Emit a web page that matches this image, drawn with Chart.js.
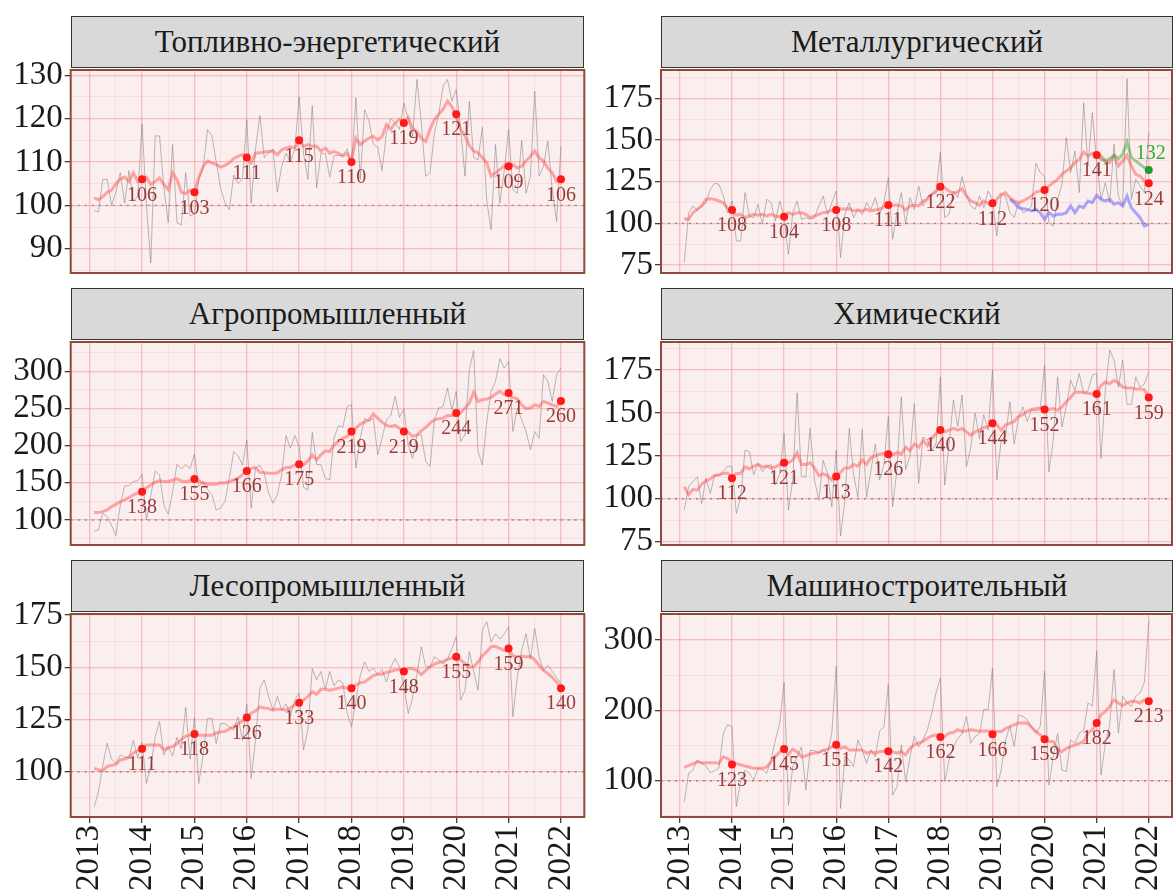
<!DOCTYPE html>
<html>
<head>
<meta charset="utf-8">
<script src="https://cdn.jsdelivr.net/npm/chart.js@4.4.0/dist/chart.umd.min.js"></script>
<style>
  body { margin: 0; background: #fff; width: 1176px; height: 893px; position: relative; overflow: hidden; font-family: 'Liberation Serif', serif; }
  canvas { position: absolute; }
  .strip { position: absolute; background: #d9d9d9; border: 1.5px solid #333; box-sizing: border-box; text-align: center; font-size: 31px; line-height: 49px; color: #1a1a1a; }
</style>
</head>
<body>
<script>
// monthly index series: month 1 = Jan 2013 ... month 108 = Dec 2021 (plotted at 2013 + k/12)
const firstYear = 2013;
const yearTicks = [2013, 2014, 2015, 2016, 2017, 2018, 2019, 2020, 2021, 2022];
const dotYears = [2014, 2015, 2016, 2017, 2018, 2019, 2020, 2021, 2022];
const titles = ['Топливно-энергетический', 'Металлургический', 'Агропромышленный', 'Химический', 'Лесопромышленный', 'Машиностроительный'];

const fuelRaw = [98.8, 98.5, 106, 106, 100, 103, 107.5, 100.5, 108, 101, 102, 118.8,
  100, 86.7, 116, 116, 104, 96, 114, 96, 95.5, 107.5, 97.5, 98,
  106, 108.5, 117.5, 116, 110, 104, 100.5, 99, 107, 105, 106, 119.7,
  100.5, 113, 120.7, 111, 112, 113, 103, 109, 112, 110, 113, 125,
  112, 106, 123, 104, 112, 112, 106.5, 111.5, 111.5, 111.5, 113, 109,
  124.8, 106, 122, 119.5, 114, 113.5, 108, 116.7, 120, 119, 117.5, 123.6,
  119.8, 116, 129, 119, 106.7, 107.5, 116.7, 121, 127.5, 129, 124, 126.7,
  118, 106.7, 124, 111, 110.5, 118, 101, 94.4, 114, 100.5, 108, 117.5,
  103.6, 102.8, 115, 102.8, 106.7, 126.3, 106.7, 109, 114.8, 103.6, 96.3, 113.6];
const fuelTrend = [101.7, 101.3, 102, 103, 103.5, 105, 106, 106.5, 105.5, 107.5, 105.5, 106.3,
  106.5, 104.8, 105.5, 106.3, 104.8, 103.6, 107.5, 106, 103, 102.7, 103.5, 103,
  106.5, 109, 110.2, 109.8, 109.4, 108.8, 109.2, 109.8, 110.8, 111.3, 111.7, 111,
  109.8, 112, 112.1, 112.3, 112.4, 112.5, 111.7, 112.8, 113.2, 113.5, 113.2, 114.8,
  113.6, 114, 113.6, 113.6, 112.5, 113.2, 112, 112.4, 112, 111.4, 112, 110.2,
  115.5, 114, 114.8, 115.5, 115.9, 115.1, 115.9, 118.6, 117.5, 119, 119.8, 119.2,
  120.2, 117.8, 117, 115.5, 114.7, 117.5, 119.8, 121, 122.2, 124, 122.8, 120.5,
  117.5, 116, 113.8, 112.5, 112.1, 111, 109.8, 106.7, 107.5, 108.3, 109, 108.6,
  109.4, 108.6, 109, 110.2, 111.3, 112.5, 111, 110.2, 108.6, 107.5, 105.5, 106.1];
const fuelDots = [106, 103, 111, 115, 110, 119, 121, 109, 106];

const metRaw = [76.4, 106.4, 110.4, 108, 110.4, 112.4, 120.4, 124, 123.4, 116.4, 106.4, 113.4,
  89.4, 89.4, 118.4, 104.4, 103.4, 111.4, 99.4, 114.4, 112.4, 101.4, 113.4, 103.4,
  81.4, 106.4, 113.4, 102.4, 103.4, 102.4, 103.4, 110.4, 116.4, 105.4, 112.4, 119.4,
  79.4, 105.4, 112.4, 103.4, 108.4, 105.4, 112.4, 108.4, 115.4, 105.4, 112.4, 127.4,
  90.4, 106.4, 118.4, 99.4, 115.4, 108.4, 122.4, 110.4, 115.4, 117.4, 118.4, 142.8,
  103.4, 105.4, 119.4, 115.4, 128, 117.4, 110.4, 108.4, 116.4, 109.4, 119.4, 114.4,
  92.4, 117.4, 116.4, 106.4, 103.4, 112.4, 106.4, 107.4, 110.4, 136, 130.4, 128.4,
  100.4, 98.4, 114.4, 123.4, 151.4, 130.4, 143.4, 118.4, 172.4, 134.4, 166.4, 136.4,
  114.4, 124.4, 112.4, 147.4, 116.4, 110.4, 186.8, 114.4, 126.4, 122.4, 118.4, 154.4];
const metTrend = [102.8, 102.4, 106.4, 108.4, 110.4, 114.4, 114.8, 114.4, 113.4, 112.4, 108.8, 108,
  104.8, 105.4, 103.4, 104.4, 105.4, 104.8, 105.4, 104.4, 105.4, 104.4, 104, 103.8,
  106.4, 105.4, 106.4, 106.4, 105.4, 103.4, 104.4, 105.4, 106.4, 106.8, 108, 108,
  108.8, 108.4, 108.8, 107.4, 108, 107.4, 108.4, 107.4, 108, 108.4, 110, 111.2,
  110.8, 110.8, 110.4, 108, 110.4, 110.8, 110.4, 113.4, 114.4, 117.4, 119.4, 121.8,
  121.4, 119.4, 118, 118.8, 120.8, 116.4, 113.4, 112.4, 110.8, 113.4, 112, 112.4,
  114.4, 117.4, 118.4, 115.4, 113.4, 112.4, 113.4, 114.8, 116.4, 118.8, 119.4, 119.4,
  122.4, 124.4, 126.4, 129.4, 131.4, 133.4, 136.4, 138.4, 142.8, 140.4, 142, 140.8,
  140.4, 137.4, 136.4, 140.4, 134.4, 137.4, 140.8, 134.4, 129.4, 128.4, 125.4, 124];
const metDots = [108, 104, 108, 111, 122, 112, 120, 141, 124];
const metGreenFrom = 96;
const metGreen = [140.8, 138.4, 137.4, 138.8, 140.8, 138.8, 141.4, 148.8, 139.4, 137.4, 135.4, 133.4, 132];
const metGreenDot = 132;
const metBlueFrom = 76;
const metBlue = [114.4, 112.4, 109.4, 108.8, 108.4, 107.4, 108.4, 106.4, 102.4, 106.4, 104.4, 105.4, 105.4,
  106.4, 110.4, 106.4, 110.4, 109.4, 113.4, 112.4, 116.8, 114.4, 113.4, 114.4, 111.4, 112.4, 110.4,
  116.4, 109.4, 106.4, 103.4, 98.4, 99.4];

const agroRaw = [85.2, 86.5, 109, 104.5, 93, 78.9, 120, 145.8, 146, 151.7, 152.6, 161.6,
  100, 133, 166, 160.7, 120, 107.6, 138, 175, 169, 174, 169, 188.5,
  145, 152, 141, 134, 113.5, 116, 125, 156.5, 192, 186.5, 174, 207.9,
  115.7, 170, 173.5, 163, 136, 122.5, 134, 161, 213.7, 196.6, 213.7, 198.9,
  144, 140.4, 217.8, 175, 174, 156, 154, 210, 227, 224.5, 252.8, 255,
  169.7, 210, 237, 232.6, 237, 187.6, 210, 234.8, 240.7, 266.3, 238, 249.7,
  201, 183, 214.6, 214.6, 178.7, 172, 234.8, 250.6, 252.8, 277.5, 248.3, 273,
  205.6, 214.6, 302, 327.9, 192, 174, 232.6, 273, 286.5, 317, 304.5, 313.5,
  219, 250.6, 234.8, 219, 194.4, 219, 210, 295.5, 286.5, 259.6, 295.5, 304.5];
const agroTrend = [110.3, 109.9, 111.2, 113.5, 118, 121, 124.7, 127, 130, 133.7, 136, 139,
  143.5, 147, 150.8, 152.6, 151.7, 151.7, 153.5, 155.3, 152.6, 151.7, 152.6, 155.3,
  152.6, 149.4, 148, 148.5, 148, 150.2, 149.9, 151.7, 153.9, 156.2, 160.7, 166,
  169.7, 170.6, 164, 163.6, 162.7, 162.7, 163.6, 167.4, 170.6, 170.6, 174.2, 175,
  174.2, 179.5, 187.6, 180.9, 187.6, 193, 192, 201, 205.6, 210, 212.4, 217.8,
  223.6, 229, 231.7, 234.8, 242.5, 237, 231.7, 227.2, 225.8, 227.2, 223.6, 218.2,
  218.2, 212.4, 214.6, 220, 224.5, 230.3, 234.8, 236.1, 237, 240.7, 240.2, 242.5,
  243.8, 250.6, 257.3, 272, 259.6, 261.8, 262.7, 265, 269.4, 273, 268.5, 269.4,
  265, 263.1, 255, 249.7, 250.6, 255, 252.8, 259.6, 257.3, 255, 252.8, 259.6];
const agroDots = [138, 155, 166, 175, 219, 219, 244, 271, 260];

const chemRaw = [93.4, 107, 110, 112.8, 97.3, 112, 103, 113.9, 113.5, 116, 119, 118.6,
  91.5, 101, 128.3, 127.4, 114, 120.6, 115.8, 119, 120, 108, 115, 138,
  93.4, 111, 161.7, 113, 112.6, 141, 111, 99, 122.5, 115, 95.3, 128.3,
  78.3, 99, 141, 114, 101, 140.4, 101, 116.5, 131.8, 111, 120, 147.8,
  95.3, 117, 159.4, 117, 125, 155.5, 109, 136, 134, 128, 132, 171,
  108, 132, 157.5, 142, 160.4, 118.6, 130, 150, 135, 149, 140, 175,
  110.9, 134, 136, 156.5, 132, 147, 153.6, 145, 152, 151, 152, 177.9,
  115.7, 134, 171, 141.8, 153.6, 169, 163, 173, 161, 163, 172, 173,
  123.5, 163, 186.6, 180.8, 165, 180.8, 155, 155, 171, 165, 167, 174];
const chemTrend = [107, 102.5, 105.5, 105, 108.5, 110.5, 111.5, 113.5, 114, 114.8, 115, 112.5,
  114.8, 114.8, 118.6, 117.5, 119, 120, 118.5, 119, 118, 118.5, 120, 121.5,
  121, 122.5, 126.8, 120, 120, 121, 118, 113.5, 114.5, 113.5, 110.9, 112.8,
  115.5, 118, 118, 120, 119, 122.5, 120, 124, 125, 126, 126.5, 126.4,
  125.5, 127, 126, 130, 128, 132, 130, 134, 131, 135, 138, 140.4,
  139, 140, 141, 140, 141, 139, 137, 139, 140, 141.5, 142, 144.9,
  143, 140, 143, 144, 145, 148, 149, 151, 152, 152.5, 152.8, 152.6,
  152, 152.6, 151.6, 153.5, 156.5, 159, 162, 162, 162, 161.5, 161, 161,
  166, 168, 167, 169, 167.5, 165, 164.5, 164.5, 164, 164, 163.5, 159];
const chemDots = [112, 121, 113, 126, 140, 144, 152, 161, 159];

const forestRaw = [83, 90.4, 103, 113.6, 106, 104, 108, 107, 106.5, 115, 106.5, 114,
  94.4, 102.5, 116.7, 124, 108, 112, 107.5, 116.5, 111, 130.8, 106, 126,
  94.4, 108, 125.5, 125.5, 113.5, 123, 123, 121.5, 120, 126.3, 115, 132.4,
  96.8, 115, 139.9, 144, 136, 129.5, 136, 129.5, 132.5, 126.5, 134.5, 137.5,
  110.4, 120, 149.4, 144, 148, 139.5, 148, 141, 144, 142.5, 127.9, 121.5,
  134, 146, 152.6, 148, 149.5, 146.5, 149, 143, 150, 154.2, 150, 141,
  127.9, 135.5, 146.5, 159.8, 150.5, 150, 155, 153.5, 151.5, 154, 159, 164.6,
  134.3, 139, 157.5, 148, 139, 167.8, 171.8, 162, 166, 163.5, 166, 169.4,
  126.3, 145.5, 158, 166, 154, 168.6, 155, 148.5, 151, 148, 145, 142.3];
const forestTrend = [101.6, 101, 100.5, 102.5, 103, 103.5, 105.6, 106, 107, 109, 110, 111.5,
  112.8, 112.8, 112.8, 112.8, 110.5, 111.5, 112, 113.5, 115.5, 117, 117.5, 117.8,
  117.5, 117.5, 117.5, 117.5, 118.5, 119, 119.3, 120.5, 121.5, 123, 124.3, 125.5,
  128, 129, 131, 130.5, 130.2, 129.5, 130, 129.8, 129.5, 130.5, 132, 133,
  134.3, 136, 138.3, 137, 139.5, 139.5, 139, 139.5, 140, 140.5, 140, 140.3,
  141.5, 142.6, 143, 144.5, 146, 146.7, 146.7, 147.5, 148, 148.8, 148.8, 148.2,
  149.6, 149.3, 148.5, 146.5, 148.5, 150.2, 151.5, 152.3, 152.8, 153.8, 154.5, 155,
  153.5, 151.8, 150, 150.3, 152.5, 155.5, 157.5, 159.8, 160, 159, 158, 158.5,
  155.5, 155, 155.3, 155, 155.2, 153.5, 151, 148.5, 147, 145.2, 143, 140];
const forestDots = [111, 118, 126, 133, 140, 148, 155, 159, 140];

const machRaw = [70, 110.5, 115, 129.5, 124.8, 121, 111.4, 114, 118, 167.6, 179.5, 177,
  62.9, 100, 115, 110.5, 101, 118, 115.5, 110.5, 130, 158, 182, 240,
  65.2, 120, 134, 148, 86.7, 142.9, 142.9, 139, 143.8, 139, 167.6, 262.9,
  60.5, 134, 129.5, 120, 158, 143.8, 124.8, 143.8, 134, 170, 177, 236.7,
  79.5, 91.4, 151, 98.6, 134, 162.9, 148, 158, 172.4, 196, 224.8, 246.2,
  98.6, 129.5, 148, 160, 167, 191.4, 153.5, 163, 167, 201, 201, 259.5,
  91.4, 115, 158, 177, 148.5, 193.8, 191.4, 186.7, 177, 167.6, 177, 255.7,
  93.8, 134, 167, 115.2, 112.9, 158, 153.3, 167.6, 172, 210.5, 206, 284.3,
  108, 153, 179.5, 258, 167.6, 220, 210.5, 205.7, 220, 224.8, 240, 327];
const machTrend = [119, 121.5, 124, 127, 125.5, 125.7, 125.7, 125.7, 124.8, 134, 131.5, 125,
  124, 122.5, 121, 119.5, 117.6, 117.6, 117.6, 119.5, 127, 135, 140.5, 145,
  137, 144.8, 141, 134, 135, 138, 139.5, 140.5, 143, 145, 148, 151.5,
  146, 148, 143.8, 143.8, 143.8, 143.8, 139, 141.4, 139, 141.4, 142, 142.5,
  141, 139, 141.4, 136.7, 146.2, 151, 153.3, 155.7, 160.5, 163.8, 164.8, 162.5,
  162.9, 167.6, 168.5, 172.4, 170, 171, 172.4, 171.5, 170.5, 170.5, 170.5, 167.6,
  170, 170, 174, 177, 179.5, 181.9, 181.9, 181.9, 176, 170, 165, 159.5,
  155.7, 155.7, 145, 141.4, 146, 148.5, 150.5, 153, 155.7, 167.6, 172.4, 181.9,
  193.8, 198.5, 205.7, 215, 210.5, 207, 210.5, 212.9, 212.5, 210.5, 215, 214];
const machDots = [123, 145, 151, 142, 162, 166, 159, 182, 213];

// y-axis settings per panel: range, labelled step, minor grid step
const yRanges = [
  { min: 84.4, max: 131.2, step: 10, minor: 5 },
  { min: 70.2, max: 192, step: 25, minor: 12.5 },
  { min: 66.3, max: 339.5, step: 50, minor: 25 },
  { min: 73.1, max: 191.3, step: 25, minor: 12.5 },
  { min: 78.3, max: 175.5, step: 25, minor: 12.5 },
  { min: 48.4, max: 337, step: 100, minor: 50 }
];
const baseLevel = 100;

const monthX = (k) => firstYear + k / 12;
const toPts = (arr, from) => arr.map((v, i) => ({ x: monthX(from + i), y: v }));

const COL = {
  bg: '#fbeeee', major: 'rgba(245,150,150,0.55)', minor: 'rgba(245,170,170,0.3)',
  frame: '#8e4a3c', grey: 'rgba(130,130,130,0.55)', red: 'rgba(255,70,70,0.45)',
  dot: '#ff1a1a', label: 'rgba(140,40,40,0.9)'
};
const FONT = 'Liberation Serif';

const deco = {
  id: 'deco',
  beforeDraw(chart) {
    const { ctx, chartArea: a } = chart;
    ctx.save();
    ctx.fillStyle = COL.bg;
    ctx.fillRect(a.left, a.top, a.right - a.left, a.bottom - a.top);
    ctx.restore();
  },
  beforeDatasetsDraw(chart) {
    const { ctx, chartArea: a, scales } = chart;
    const y = scales.y.getPixelForValue(baseLevel);
    ctx.save();
    ctx.strokeStyle = 'rgba(120,120,120,0.8)';
    ctx.lineWidth = 1.4;
    ctx.setLineDash([2, 5]);
    ctx.beginPath(); ctx.moveTo(a.left, y); ctx.lineTo(a.right, y); ctx.stroke();
    ctx.restore();
  },
  afterDatasetsDraw(chart) {
    const { ctx } = chart;
    ctx.save();
    ctx.font = '20px ' + FONT;
    ctx.textAlign = 'center';
    chart.data.datasets.forEach((ds, i) => {
      if (!ds.labelled) return;
      const meta = chart.getDatasetMeta(i);
      meta.data.forEach((pt, j) => {
        ctx.fillStyle = ds.labelColor;
        if (ds.labelAbove) { ctx.textBaseline = 'bottom'; ctx.fillText(ds.data[j].y, pt.x + 2, pt.y - 6); }
        else { ctx.textBaseline = 'top'; ctx.fillText(ds.data[j].y, pt.x, pt.y + 6); }
      });
    });
    ctx.restore();
  },
  afterDraw(chart) {
    const { ctx, chartArea: a } = chart;
    ctx.save();
    ctx.strokeStyle = COL.frame;
    ctx.lineWidth = 2;
    ctx.strokeRect(a.left, a.top, a.right - a.left, a.bottom - a.top);
    ctx.restore();
  }
};

const panels = [
  { raw: fuelRaw, trend: fuelTrend, dots: fuelDots },
  { raw: metRaw, trend: metTrend, dots: metDots, extra: true },
  { raw: agroRaw, trend: agroTrend, dots: agroDots },
  { raw: chemRaw, trend: chemTrend, dots: chemDots },
  { raw: forestRaw, trend: forestTrend, dots: forestDots },
  { raw: machRaw, trend: machTrend, dots: machDots }
];

const plotTops = [70, 342, 614];
const plotH = 203;
const cols = [{ cx: 0, cw: 590, left: 70.7, right: 584.3 }, { cx: 590, cw: 586, left: 661, right: 1173 }];
const PAD = 20;

panels.forEach((p, idx) => {
  const row = Math.floor(idx / 2), col = cols[idx % 2];
  const bottomRow = row === 2;
  const top = plotTops[row];

  const strip = document.createElement('div');
  strip.className = 'strip';
  strip.textContent = titles[idx];
  Object.assign(strip.style, { left: col.left + 'px', width: (col.right - col.left) + 'px', top: (top - 54) + 'px', height: '52px' });

  const cv = document.createElement('canvas');
  const ch = bottomRow ? 893 - (top - PAD) : plotH + 2 * PAD;
  cv.width = col.cw; cv.height = ch;
  Object.assign(cv.style, { left: col.cx + 'px', top: (top - PAD) + 'px', width: col.cw + 'px', height: ch + 'px' });
  document.body.appendChild(cv);
  document.body.appendChild(strip);

  const yr = yRanges[idx];
  const isMajorY = (v) => Math.abs(v / yr.step - Math.round(v / yr.step)) < 1e-6;
  const isMajorX = (v) => Math.abs(v - Math.round(v)) < 1e-6;

  const datasets = [
    { data: p.dots.map((v, i) => ({ x: dotYears[i], y: v })), showLine: false, pointRadius: 4, pointBackgroundColor: COL.dot, pointBorderWidth: 0, order: 0, labelled: true, labelColor: COL.label }
  ];
  if (p.extra) {
    datasets.push({ data: [{ x: dotYears[dotYears.length - 1], y: metGreenDot }], showLine: false, pointRadius: 4, pointBackgroundColor: '#1f9a2a', pointBorderWidth: 0, order: 0, labelled: true, labelAbove: true, labelColor: 'rgba(40,170,40,0.95)' });
    datasets.push({ data: toPts(metGreen, metGreenFrom), borderColor: 'rgba(40,160,40,0.45)', borderWidth: 3, pointRadius: 0, order: 1 });
    datasets.push({ data: toPts(metBlue, metBlueFrom), borderColor: 'rgba(90,90,255,0.5)', borderWidth: 3, pointRadius: 0, order: 1 });
  }
  datasets.push({ data: toPts(p.trend, 1), borderColor: COL.red, borderWidth: 3, pointRadius: 0, order: 2 });
  datasets.push({ data: toPts(p.raw, 1), borderColor: COL.grey, borderWidth: 1, pointRadius: 0, order: 3 });

  new Chart(cv, {
    type: 'line',
    data: { datasets },
    options: {
      responsive: false, animation: false, events: [],
      layout: { padding: { left: 0, right: col.cw - col.right + col.cx, top: PAD, bottom: bottomRow ? 0 : PAD } },
      plugins: { legend: { display: false }, tooltip: { enabled: false } },
      scales: {
        x: {
          type: 'linear', min: 2012.637, max: 2022.446,
          afterBuildTicks: (s) => {
            const t = [];
            for (let v = yearTicks[0]; v <= yearTicks[yearTicks.length - 1] + 1e-9; v += 0.5) t.push({ value: v });
            s.ticks = t;
          },
          afterFit: (s) => { s.height = bottomRow ? 893 - (top + plotH) : 0; s.paddingLeft = 0; s.paddingRight = 0; },
          border: { display: false },
          grid: {
            color: (c) => isMajorX(c.tick.value) ? COL.major : COL.minor,
            lineWidth: (c) => isMajorX(c.tick.value) ? 1.3 : 0.8,
            tickColor: (c) => isMajorX(c.tick.value) ? '#4a3a34' : 'rgba(0,0,0,0)',
            drawTicks: bottomRow, tickLength: 6
          },
          ticks: {
            display: bottomRow, autoSkip: false, maxRotation: 90, minRotation: 90, padding: 2,
            color: '#1a1a1a', font: { family: FONT, size: 33 },
            callback: (v) => isMajorX(v) ? String(Math.round(v)) : ''
          }
        },
        y: {
          min: yr.min, max: yr.max,
          afterBuildTicks: (s) => {
            const t = [];
            for (let v = Math.ceil(yr.min / yr.minor) * yr.minor; v <= yr.max; v += yr.minor) t.push({ value: v });
            s.ticks = t;
          },
          afterFit: (s) => { s.width = col.left - col.cx; s.paddingTop = 0; s.paddingBottom = 0; },
          border: { display: false },
          grid: {
            color: (c) => isMajorY(c.tick.value) ? COL.major : COL.minor,
            lineWidth: (c) => isMajorY(c.tick.value) ? 1.3 : 0.8,
            tickColor: (c) => isMajorY(c.tick.value) ? '#4a3a34' : 'rgba(0,0,0,0)',
            tickLength: 6
          },
          ticks: {
            autoSkip: false, padding: 2, color: '#1a1a1a', font: { family: FONT, size: 33 },
            callback: (v) => isMajorY(v) ? String(Math.round(v)) : ''
          }
        }
      }
    },
    plugins: [deco]
  });
});
</script>
</body>
</html>
